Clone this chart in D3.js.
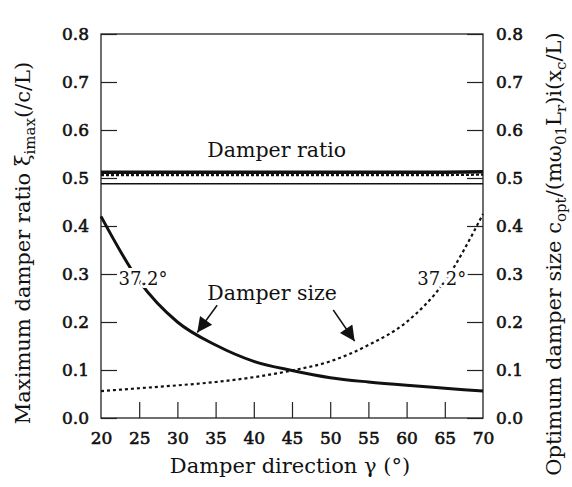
<!DOCTYPE html>
<html>
<head>
<meta charset="utf-8">
<script src="https://cdn.jsdelivr.net/npm/d3@7/dist/d3.min.js"></script>
<style>
  html, body { margin: 0; padding: 0; background: #fff; }
  svg text { font-family: "DejaVu Serif", "Liberation Serif", serif; fill: #111; }
</style>
</head>
<body>
<svg id="chart" width="572" height="487"></svg>
<script>
// Damper direction (degrees)
const angles = [20, 25, 30, 35, 40, 45, 50, 55, 60, 65, 70];

// Maximum damper ratio curves (left axis)
const ratioThick  = [0.512, 0.512, 0.512, 0.512, 0.512, 0.512, 0.512, 0.512, 0.512, 0.512, 0.513];
const ratioDotted = [0.506, 0.506, 0.506, 0.506, 0.506, 0.506, 0.506, 0.506, 0.506, 0.506, 0.507];
const ratioThin   = [0.488, 0.488, 0.488, 0.488, 0.488, 0.488, 0.488, 0.488, 0.488, 0.488, 0.488];

// Optimum damper size curves (right axis)
const sizeSolid  = [0.420, 0.285, 0.200, 0.152, 0.118, 0.099, 0.084, 0.075, 0.068, 0.062, 0.056];
const sizeDotted = [0.056, 0.062, 0.068, 0.075, 0.085, 0.099, 0.118, 0.152, 0.200, 0.285, 0.425];

// Tick values
const xTicks = [20, 25, 30, 35, 40, 45, 50, 55, 60, 65, 70];
const yTicks = [0, 0.1, 0.2, 0.3, 0.4, 0.5, 0.6, 0.7, 0.8];

const svg = d3.select("#chart");
const plotL = 101, plotR = 483, plotT = 34, plotB = 418;

const x = d3.scaleLinear().domain([20, 70]).range([plotL, plotR]);
const y = d3.scaleLinear().domain([0, 0.8]).range([plotB, plotT]);

// Frame
svg.append("rect")
  .attr("x", plotL).attr("y", plotT)
  .attr("width", plotR - plotL).attr("height", plotB - plotT)
  .attr("fill", "none").attr("stroke", "#222").attr("stroke-width", 1.3);

// Inward ticks
const tickLen = 16;
const axisLeft = d3.axisLeft(y).tickValues(yTicks).tickSize(-tickLen).tickPadding(12).tickFormat(d3.format(".1f"));
const axisRight = d3.axisRight(y).tickValues(yTicks).tickSize(-tickLen).tickPadding(13).tickFormat(d3.format(".1f"));
const axisBottom = d3.axisBottom(x).tickValues(xTicks).tickSize(-tickLen).tickPadding(14).tickFormat(d3.format("d"));

function styleAxis(g) {
  g.select(".domain").remove();
  g.selectAll(".tick line").attr("stroke", "#222").attr("stroke-width", 1.2);
  g.selectAll(".tick text")
    .attr("font-family", "DejaVu Serif, serif")
    .attr("font-size", 17).attr("fill", "#111")
    .attr("stroke", "#111").attr("stroke-width", 0.6);
}

svg.append("g").attr("transform", `translate(${plotL},0)`).call(axisLeft).call(styleAxis);
svg.append("g").attr("transform", `translate(${plotR},0)`).call(axisRight).call(styleAxis);
svg.append("g").attr("transform", `translate(0,${plotB})`).call(axisBottom).call(styleAxis)
  .selectAll(".tick").filter(d => d === 20 || d === 70).select("line").remove();

const line = d3.line().x((d, i) => x(angles[i])).y(d => y(d));
const smooth = d3.line().x((d, i) => x(angles[i])).y(d => y(d)).curve(d3.curveMonotoneX);

// Damper ratio lines
svg.append("path").datum(ratioThin).attr("d", line)
  .attr("fill", "none").attr("stroke", "#111").attr("stroke-width", 1.6);
svg.append("path").datum(ratioThick).attr("d", line)
  .attr("fill", "none").attr("stroke", "#111").attr("stroke-width", 3.6);
svg.append("path").datum(ratioDotted).attr("d", line)
  .attr("fill", "none").attr("stroke", "#111").attr("stroke-width", 2.2)
  .attr("stroke-dasharray", "3,2");

// Damper size curves
svg.append("path").datum(sizeSolid).attr("d", smooth)
  .attr("fill", "none").attr("stroke", "#111").attr("stroke-width", 3);
svg.append("path").datum(sizeDotted).attr("d", smooth)
  .attr("fill", "none").attr("stroke", "#111").attr("stroke-width", 2.2)
  .attr("stroke-dasharray", "3,3");

// Annotations
function label(tx, ty, str, size) {
  return svg.append("text")
    .attr("x", x(tx)).attr("y", y(ty))
    .attr("text-anchor", "middle")
    .attr("font-size", size)
    .attr("stroke", "#fff").attr("stroke-width", 6)
    .attr("paint-order", "stroke")
    .text(str);
}
label(43.0, 0.544, "Damper ratio", 20.5).attr("stroke-width", 0);
label(25.5, 0.277, "37.2°", 18);
label(64.6, 0.277, "37.2°", 18);
label(42.4, 0.246, "Damper size", 20.5).attr("stroke-width", 0);

// Arrows pointing to the damper size curves
svg.append("defs").append("marker")
  .attr("id", "head").attr("viewBox", "0 0 10 10")
  .attr("refX", 10).attr("refY", 5)
  .attr("markerWidth", 20).attr("markerHeight", 15)
  .attr("markerUnits", "userSpaceOnUse")
  .attr("orient", "auto")
  .append("path").attr("d", "M0,0 L10,5 L0,10 Z").attr("fill", "#111");

const arrows = [
  { from: [35.2, 0.235], to: [32.6, 0.178] },
  { from: [50.4, 0.225], to: [53.2, 0.160] }
];
svg.selectAll(".arrow").data(arrows).enter().append("line")
  .attr("class", "arrow")
  .attr("x1", d => x(d.from[0])).attr("y1", d => y(d.from[1]))
  .attr("x2", d => x(d.to[0])).attr("y2", d => y(d.to[1]))
  .attr("stroke", "#111").attr("stroke-width", 1.5)
  .attr("marker-end", "url(#head)");

// Axis titles
svg.append("text")
  .attr("x", (plotL + plotR) / 2 - 2).attr("y", 473)
  .attr("text-anchor", "middle").attr("font-size", 21)
  .text("Damper direction γ (°)");

const lt = svg.append("text")
  .attr("transform", "translate(30,243) rotate(-90)")
  .attr("text-anchor", "middle").attr("font-size", 21);
lt.append("tspan").text("Maximum damper ratio ξ");
lt.append("tspan").attr("font-size", 15).attr("dy", 5).text("imax");
lt.append("tspan").attr("dy", -5).text("(/c/L)");

const rt = svg.append("text")
  .attr("transform", "translate(561,254) rotate(-90)")
  .attr("text-anchor", "middle").attr("font-size", 21);
rt.append("tspan").text("Optimum damper size c");
rt.append("tspan").attr("font-size", 15).attr("dy", 5).text("opt");
rt.append("tspan").attr("dy", -5).text("/(mω");
rt.append("tspan").attr("font-size", 15).attr("dy", 5).text("01");
rt.append("tspan").attr("dy", -5).text("L");
rt.append("tspan").attr("font-size", 15).attr("dy", 5).text("r");
rt.append("tspan").attr("dy", -5).text(")i(x");
rt.append("tspan").attr("font-size", 15).attr("dy", 5).text("c");
rt.append("tspan").attr("dy", -5).text("/L)");
</script>
</body>
</html>
